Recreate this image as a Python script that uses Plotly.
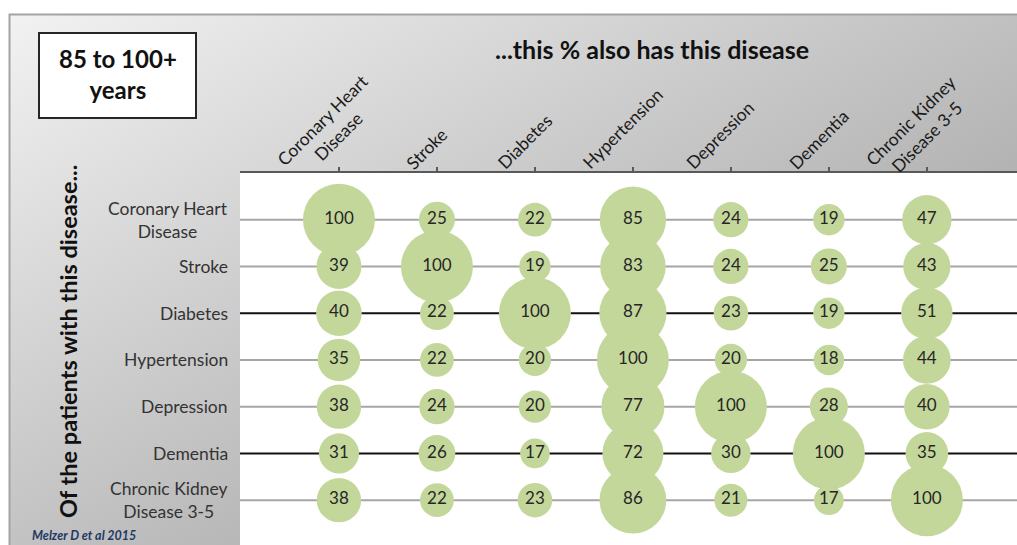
import base64
import plotly.graph_objects as go

# ---------------- data ----------------
col_labels = ["Coronary Heart<br>Disease", "Stroke", "Diabetes", "Hypertension",
              "Depression", "Dementia", "Chronic Kidney<br>Disease 3-5"]
row_labels = ["Coronary Heart<br>Disease", "Stroke", "Diabetes", "Hypertension",
              "Depression", "Dementia", "Chronic Kidney<br>Disease 3-5"]

chd_row = [100, 25, 22, 85, 24, 19, 47]
stroke_row = [39, 100, 19, 83, 24, 25, 43]
diabetes_row = [40, 22, 100, 87, 23, 19, 51]
hypertension_row = [35, 22, 20, 100, 20, 18, 44]
depression_row = [38, 24, 20, 77, 100, 28, 40]
dementia_row = [31, 26, 17, 72, 30, 100, 35]
ckd_row = [38, 22, 23, 86, 21, 17, 100]
rows_values = [chd_row, stroke_row, diabetes_row, hypertension_row,
               depression_row, dementia_row, ckd_row]

title_text = "...this % also has this disease"
ytitle_text = "Of the patients with this disease..."
box_text = "85 to 100+<br>years"
source_text = "Melzer D et al 2015"

# ---------------- style ----------------
W, H = 1017, 545
FONT = "Lato"
BUBBLE = "#c4d79b"
row_line_colors = ["#a6a6a6", "#a6a6a6", "#111111", "#a6a6a6",
                   "#a6a6a6", "#111111", "#a6a6a6"]
MAX_DIAM = 72

xs, ys, vals = [], [], []
for r, row in enumerate(rows_values):
    for c, v in enumerate(row):
        xs.append(c)
        ys.append(r)
        vals.append(v)

fig = go.Figure()
fig.add_trace(go.Scatter(
    x=xs, y=ys, mode="markers+text",
    marker=dict(size=vals, sizemode="area", sizeref=2.0 * max(vals) / MAX_DIAM ** 2,
                color=BUBBLE, line=dict(width=0), opacity=1),
    text=[str(v) for v in vals], textposition="middle center",
    textfont=dict(family=FONT, size=17, color="#262626"),
    hoverinfo="skip", showlegend=False, cliponaxis=False,
))

# background gradient frame (svg image)
svg = f'''<svg xmlns="http://www.w3.org/2000/svg" width="{W}" height="{H}" viewBox="0 0 {W} {H}" preserveAspectRatio="none">
<defs><linearGradient id="g" x1="0" y1="0" x2="1" y2="1">
<stop offset="0" stop-color="#f2f2f2"/><stop offset="1" stop-color="#8c8c8c"/></linearGradient></defs>
<rect x="0" y="0" width="{W}" height="{H}" fill="#ffffff"/>
<rect x="9.5" y="14.5" width="1040" height="570" fill="url(#g)" stroke="#a3a3a3" stroke-width="2"/>
</svg>'''
src = "data:image/svg+xml;base64," + base64.b64encode(svg.encode()).decode()

shapes = [dict(type="rect", xref="x domain", yref="y domain", x0=0, x1=1, y0=0, y1=1,
               fillcolor="white", line=dict(width=0), layer="below")]
for r, col in enumerate(row_line_colors):
    shapes.append(dict(type="line", xref="x domain", yref="y", x0=0, x1=1, y0=r, y1=r,
                       line=dict(color=col, width=2), layer="below"))
# age box
shapes.append(dict(type="rect", xref="paper", yref="paper",
                   x0=39 / W, x1=196 / W, y0=1 - 118 / H, y1=1 - 33 / H,
                   fillcolor="white", line=dict(color="#262626", width=2), layer="above"))

annotations = []
for c, lab in enumerate(col_labels):
    multi = "<br>" in lab
    annotations.append(dict(
        x=c, xref="x", y=1, yref="y domain", text=lab, showarrow=False,
        textangle=-45, xanchor="center", yanchor="bottom", align="center",
        xshift=-8 if multi else -10, yshift=-16 if multi else -3,
        font=dict(family=FONT, size=17.5, color="#1a1a1a")))
for r, lab in enumerate(row_labels):
    annotations.append(dict(
        x=0, xref="x domain", y=r, yref="y", text=lab, showarrow=False,
        xanchor="right", yanchor="middle", align="center", xshift=-10,
        font=dict(family=FONT, size=17.5, color="#333333")))
annotations.append(dict(x=652 / W, y=1 - 49 / H, xref="paper", yref="paper",
                        text=f"<b>{title_text}</b>", showarrow=False,
                        xanchor="center", yanchor="middle",
                        font=dict(family=FONT, size=25, color="#111111")))
annotations.append(dict(x=68 / W, y=1 - 342 / H, xref="paper", yref="paper",
                        text=f"<b>{ytitle_text}</b>", showarrow=False, textangle=-90,
                        xanchor="center", yanchor="middle",
                        font=dict(family=FONT, size=23.5, color="#111111")))
annotations.append(dict(x=117.5 / W, y=1 - 74 / H, xref="paper", yref="paper",
                        text=f"<b>{box_text}</b>", showarrow=False, align="center",
                        xanchor="center", yanchor="middle",
                        font=dict(family=FONT, size=24, color="#111111")))
annotations.append(dict(x=30 / W, y=1 - 535 / H, xref="paper", yref="paper",
                        text=f"<b><i>{source_text}</i></b>", showarrow=False,
                        xanchor="left", yanchor="middle",
                        font=dict(family=FONT, size=12.5, color="#1f3864")))

fig.update_layout(
    width=W, height=H, margin=dict(l=0, r=0, t=0, b=0),
    paper_bgcolor="white", plot_bgcolor="white",
    images=[dict(source=src, xref="paper", yref="paper", x=0, y=1, sizex=1, sizey=1,
                 xanchor="left", yanchor="top", sizing="stretch", layer="below")],
    shapes=shapes, annotations=annotations,
    xaxis=dict(domain=[240 / W, 1], range=[-1.01, 6.92], side="top",
               showline=True, linecolor="#595959", linewidth=2,
               ticks="outside", ticklen=4, tickcolor="#595959", tickwidth=1.5,
               tickvals=list(range(len(col_labels))), showticklabels=False,
               showgrid=False, zeroline=False, fixedrange=True),
    yaxis=dict(domain=[0, 1 - 173 / H], range=[6.96, -1.0],
               showline=False, showgrid=False, zeroline=False,
               showticklabels=False, ticks="", fixedrange=True),
)

fig.write_html("out.html", config={"displayModeBar": False},
               post_script="document.body.style.margin='0';")
